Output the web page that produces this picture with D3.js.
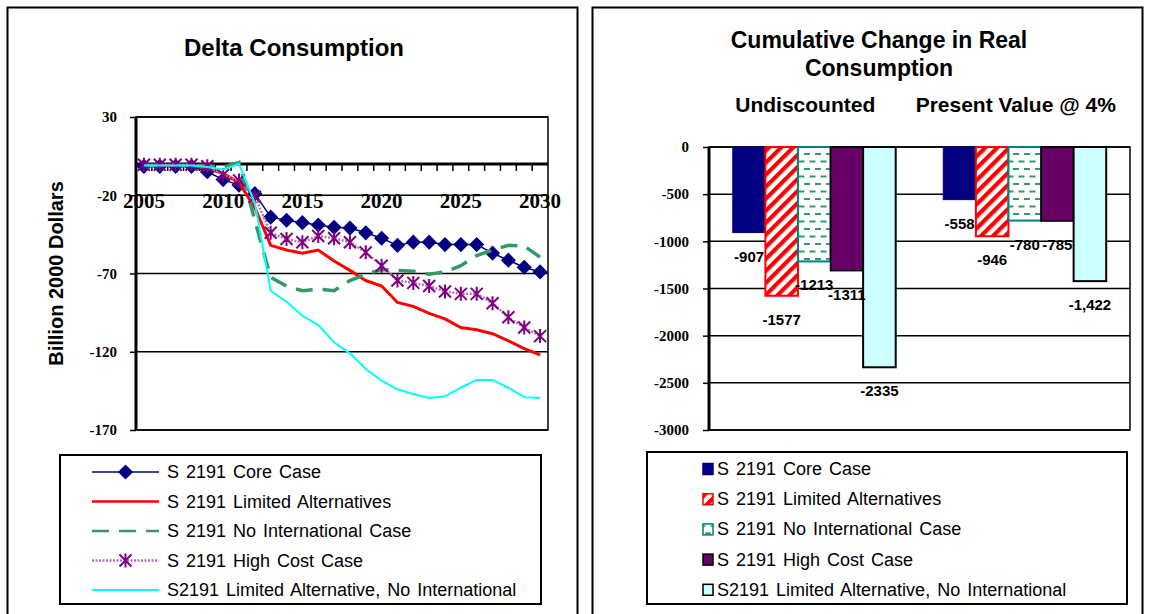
<!DOCTYPE html>
<html>
<head>
<meta charset="utf-8">
<script src="https://cdn.jsdelivr.net/npm/d3@7"></script>
<style>
body { margin: 0; background: #fff; }
svg { display: block; }
</style>
</head>
<body>
<svg id="chart" width="1149" height="614"></svg>
<script>
// ---- data ----
var years = [2005, 2006, 2007, 2008, 2009, 2010, 2011, 2012, 2013, 2014, 2015, 2016, 2017,
             2018, 2019, 2020, 2021, 2022, 2023, 2024, 2025, 2026, 2027, 2028, 2029, 2030];
var yearLabels = [2005, 2010, 2015, 2020, 2025, 2030];
var deltaTicks = [30, -20, -70, -120, -170];

var seriesNames = ["S 2191 Core Case", "S 2191 Limited Alternatives", "S 2191 No International Case",
                   "S 2191 High Cost Case", "S2191 Limited Alternative, No International"];

var coreCase = [-1.5, -1.5, -1.5, -1.5, -5, -10, -13.5, -19, -34, -36, -37.5, -39, -40.5,
                -41, -44, -47.5, -52, -50, -50, -51.5, -51.5, -51.5, -57, -61.5, -66, -69];
var limitedAlt = [-1, -1, -1, -1, -3, -6, -12, -28, -52, -55, -57, -55, -62,
                  -68, -74.5, -78, -88.5, -91, -95.5, -99, -104.5, -106, -108.5, -113, -118, -122];
var noIntl = [-1, -1, -1, -1, -1, -2, 1, -36, -72.5, -78, -81, -80, -81,
              -74.5, -70.5, -67.5, -68, -68.5, -70.5, -69, -65, -58.5, -55, -52, -52.5, -59.5];
var highCost = [-0.5, -0.5, -0.5, -0.5, -1.5, -7, -10.5, -21, -44, -48, -50, -46, -47.5,
                -50, -56.5, -65, -74.5, -76, -78, -81.5, -83, -83, -89, -98, -104.5, -110];
var limitedNoIntl = [-1, -1, -1, -1, -2, -3.5, 0, -25, -81, -88, -97, -103, -114,
                     -121, -131, -138.5, -144, -147, -149.5, -148.5, -143, -138, -138, -143, -149, -149.5];

var cumGroups = ["Undiscounted", "Present Value @ 4%"];
var cumTicks = [0, -500, -1000, -1500, -2000, -2500, -3000];
var cumCore = [-907, -558];
var cumLimitedAlt = [-1577, -946];
var cumNoIntl = [-1213, -780];
var cumHighCost = [-1311, -785];
var cumLimitedNoIntl = [-2335, -1422];
var cumLabels = [["-907", "-558"], ["-1577", "-946"], ["-1213", "-780"], ["-1311", "-785"], ["-2335", "-1,422"]];

// ---- setup ----
var svg = d3.select("#chart");
var sans = "'Liberation Sans', Arial, sans-serif";
var serif = "'Liberation Serif', 'Times New Roman', serif";
var plain = function(d) { return String(d); }; // hyphen minus, no thousands separator

var defs = svg.append("defs");
var stripes = defs.append("pattern").attr("id", "redStripes")
    .attr("patternUnits", "userSpaceOnUse").attr("width", 8.5).attr("height", 8.5)
    .attr("patternTransform", "rotate(45)");
stripes.append("rect").attr("width", 8.5).attr("height", 8.5).attr("fill", "#fff");
stripes.append("rect").attr("width", 4.2).attr("height", 8.5).attr("fill", "#ff0000");

var dashes = defs.append("pattern").attr("id", "greenDashes")
    .attr("patternUnits", "userSpaceOnUse").attr("width", 11).attr("height", 15);
dashes.append("rect").attr("width", 11).attr("height", 15).attr("fill", "#fff");
dashes.append("rect").attr("x", 1).attr("y", 3).attr("width", 6).attr("height", 2).attr("fill", "#339966");
dashes.append("rect").attr("x", 6.5).attr("y", 10.5).attr("width", 6).attr("height", 2).attr("fill", "#339966");
dashes.append("rect").attr("x", -4.5).attr("y", 10.5).attr("width", 6).attr("height", 2).attr("fill", "#339966");

// panel frames
svg.append("rect").attr("x", 7.5).attr("y", 7.5).attr("width", 570).attr("height", 620)
    .attr("fill", "none").attr("stroke", "#000").attr("stroke-width", 2);
svg.append("rect").attr("x", 592.5).attr("y", 7.5).attr("width", 550).attr("height", 620)
    .attr("fill", "none").attr("stroke", "#000").attr("stroke-width", 2);

// ================= left: Delta Consumption =================
var L = {left: 136, right: 548, top: 117, bottom: 430};
var x = d3.scaleBand().domain(years).range([L.left, L.right]).padding(0);
var y = d3.scaleLinear().domain([-170, 30]).range([L.bottom, L.top]);
var cx = function(yr) { return x(yr) + x.bandwidth() / 2; };

svg.append("text").attr("x", 294).attr("y", 56).attr("text-anchor", "middle")
    .attr("font-family", sans).attr("font-weight", "bold").attr("font-size", 24)
    .text("Delta Consumption");

svg.append("text").attr("transform", "translate(63," + (L.top + L.bottom) / 2 + ") rotate(-90)")
    .attr("text-anchor", "middle").attr("font-family", sans).attr("font-weight", "bold")
    .attr("font-size", 20).text("Billion 2000 Dollars");

// gridlines + y axis
var yAxis = d3.axisLeft(y).tickValues(deltaTicks).tickFormat(plain).tickSize(6).tickPadding(13);
var gy = svg.append("g").attr("transform", "translate(" + L.left + ",0)").call(yAxis);
gy.select(".domain").remove();
gy.selectAll(".tick line").attr("stroke", "#000").attr("stroke-width", 1.5);
gy.selectAll(".tick text").attr("font-family", serif).attr("font-weight", "bold")
    .attr("font-size", 15).attr("fill", "#000");

svg.append("g").selectAll("line").data(deltaTicks).enter().append("line")
    .attr("x1", L.left).attr("x2", L.right)
    .attr("y1", function(d) { return y(d); }).attr("y2", function(d) { return y(d); })
    .attr("stroke", "#000").attr("stroke-width", 1.5);

svg.append("rect").attr("x", L.left).attr("y", L.top).attr("width", L.right - L.left)
    .attr("height", L.bottom - L.top).attr("fill", "none").attr("stroke", "#000").attr("stroke-width", 1.5);
svg.append("line").attr("x1", L.left).attr("x2", L.left).attr("y1", L.top).attr("y2", L.bottom)
    .attr("stroke", "#000").attr("stroke-width", 3);

// x axis on zero line, ticks between categories
svg.append("line").attr("x1", L.left).attr("x2", L.right).attr("y1", y(0)).attr("y2", y(0))
    .attr("stroke", "#000").attr("stroke-width", 3);
svg.append("g").selectAll("line").data(years.slice(1)).enter().append("line")
    .attr("x1", function(d) { return x(d); }).attr("x2", function(d) { return x(d); })
    .attr("y1", y(0)).attr("y2", y(0) + 7).attr("stroke", "#000").attr("stroke-width", 1.5);
svg.append("g").selectAll("text").data(yearLabels).enter().append("text")
    .attr("x", function(d) { return cx(d); }).attr("y", 208).attr("text-anchor", "middle")
    .attr("font-family", serif).attr("font-weight", "bold").attr("font-size", 21)
    .text(function(d) { return d; });

var line = d3.line().x(function(d, i) { return cx(years[i]); }).y(function(d) { return y(d); });

var lineStyles = [
  {color: "#000080", width: 1.5, dash: null},
  {color: "#ff0000", width: 3, dash: null},
  {color: "#339966", width: 3.5, dash: "17,10"},
  {color: "#b070b8", width: 2.5, dash: "2,1.5"},
  {color: "#00ffff", width: 2, dash: null}
];
var lineData = [coreCase, limitedAlt, noIntl, highCost, limitedNoIntl];

var diamond = d3.symbol().type(d3.symbolSquare).size(115);
var asterisk = "M-6,-6L6,6M-6,6L6,-6M0,-7L0,7";

lineData.forEach(function(vals, k) {
  var st = lineStyles[k];
  svg.append("path").datum(vals).attr("d", line).attr("fill", "none")
      .attr("stroke", st.color).attr("stroke-width", st.width)
      .attr("stroke-dasharray", st.dash);
  if (k === 0) {
    svg.append("g").selectAll("path").data(vals).enter().append("path")
        .attr("d", diamond)
        .attr("transform", function(d, i) { return "translate(" + cx(years[i]) + "," + y(d) + ") rotate(45)"; })
        .attr("fill", "#000080");
  }
  if (k === 3) {
    svg.append("g").selectAll("path").data(vals).enter().append("path")
        .attr("d", asterisk)
        .attr("transform", function(d, i) { return "translate(" + cx(years[i]) + "," + y(d) + ")"; })
        .attr("stroke", "#800080").attr("stroke-width", 2).attr("fill", "none");
  }
});

// left legend
svg.append("rect").attr("x", 60).attr("y", 455).attr("width", 481).attr("height", 149)
    .attr("fill", "#fff").attr("stroke", "#000").attr("stroke-width", 2);
var legL = svg.append("g").selectAll("g").data(seriesNames).enter().append("g")
    .attr("transform", function(d, i) { return "translate(0," + (472 + i * 29.5) + ")"; });
legL.append("line").attr("x1", 92).attr("x2", 159).attr("y1", 0).attr("y2", 0)
    .attr("stroke", function(d, i) { return lineStyles[i].color; })
    .attr("stroke-width", function(d, i) { return Math.min(lineStyles[i].width, 2.5); })
    .attr("stroke-dasharray", function(d, i) { return lineStyles[i].dash; });
legL.filter(function(d, i) { return i === 0; }).append("path").attr("d", diamond)
    .attr("transform", "translate(125.5,0) rotate(45)").attr("fill", "#000080");
legL.filter(function(d, i) { return i === 3; }).append("path").attr("d", asterisk)
    .attr("transform", "translate(125.5,0)").attr("stroke", "#800080").attr("stroke-width", 2);
legL.append("text").attr("x", 167).attr("y", 6).attr("font-family", sans).attr("font-size", 18)
    .attr("word-spacing", 2).text(function(d) { return d; });

// ================= right: Cumulative Change =================
var R = {left: 709, right: 1130, top: 147, bottom: 430};
var x0 = d3.scaleBand().domain(cumGroups).range([R.left, R.right]).paddingInner(0.226).paddingOuter(0.113);
var x1 = d3.scaleBand().domain(d3.range(seriesNames.length)).range([0, x0.bandwidth()]);
var y2 = d3.scaleLinear().domain([-3000, 0]).range([R.bottom, R.top]);

svg.append("text").attr("x", 879).attr("y", 48).attr("text-anchor", "middle")
    .attr("font-family", sans).attr("font-weight", "bold").attr("font-size", 23)
    .text("Cumulative Change in Real");
svg.append("text").attr("x", 879).attr("y", 76).attr("text-anchor", "middle")
    .attr("font-family", sans).attr("font-weight", "bold").attr("font-size", 23)
    .text("Consumption");
svg.append("g").selectAll("text").data(cumGroups).enter().append("text")
    .attr("x", function(d) { return x0(d) + x0.bandwidth() / 2 - 9; }).attr("y", 112)
    .attr("text-anchor", "middle").attr("font-family", sans).attr("font-weight", "bold")
    .attr("font-size", 21).text(function(d) { return d; });

var yAxis2 = d3.axisLeft(y2).tickValues(cumTicks).tickFormat(plain).tickSize(6).tickPadding(14);
var gy2 = svg.append("g").attr("transform", "translate(" + R.left + ",0)").call(yAxis2);
gy2.select(".domain").remove();
gy2.selectAll(".tick line").attr("stroke", "#000").attr("stroke-width", 1.5);
gy2.selectAll(".tick text").attr("font-family", serif).attr("font-weight", "bold")
    .attr("font-size", 15).attr("fill", "#000");

svg.append("g").selectAll("line").data(cumTicks).enter().append("line")
    .attr("x1", R.left).attr("x2", R.right)
    .attr("y1", function(d) { return y2(d); }).attr("y2", function(d) { return y2(d); })
    .attr("stroke", "#000").attr("stroke-width", 1.5);
svg.append("rect").attr("x", R.left).attr("y", R.top).attr("width", R.right - R.left)
    .attr("height", R.bottom - R.top).attr("fill", "none").attr("stroke", "#000").attr("stroke-width", 1.5);

var barData = [cumCore, cumLimitedAlt, cumNoIntl, cumHighCost, cumLimitedNoIntl];
var barStyles = [
  {fill: "#000080", stroke: "#000080", sw: 1},
  {fill: "url(#redStripes)", stroke: "#ff0000", sw: 2},
  {fill: "url(#greenDashes)", stroke: "#008080", sw: 2},
  {fill: "#660066", stroke: "#000", sw: 1.5},
  {fill: "#ccffff", stroke: "#000", sw: 2}
];

barData.forEach(function(vals, k) {
  var st = barStyles[k];
  svg.append("g").selectAll("rect").data(vals).enter().append("rect")
      .attr("x", function(d, i) { return x0(cumGroups[i]) + x1(k); })
      .attr("y", y2(0))
      .attr("width", x1.bandwidth())
      .attr("height", function(d) { return y2(d) - y2(0); })
      .attr("fill", st.fill).attr("stroke", st.stroke).attr("stroke-width", st.sw);
});
barData.forEach(function(vals, k) {
  svg.append("g").selectAll("text").data(vals).enter().append("text")
      .attr("x", function(d, i) { return x0(cumGroups[i]) + x1(k) + x1.bandwidth() / 2; })
      .attr("y", function(d) { return y2(d) + 29; })
      .attr("text-anchor", "middle").attr("font-family", sans).attr("font-weight", "bold")
      .attr("font-size", 15)
      .text(function(d, i) { return cumLabels[k][i]; });
});
svg.append("line").attr("x1", R.left).attr("x2", R.left).attr("y1", R.top).attr("y2", R.bottom)
    .attr("stroke", "#000").attr("stroke-width", 3);

// right legend
svg.append("rect").attr("x", 647).attr("y", 452).attr("width", 480).attr("height", 152)
    .attr("fill", "#fff").attr("stroke", "#000").attr("stroke-width", 2);
var legR = svg.append("g").selectAll("g").data(seriesNames).enter().append("g")
    .attr("transform", function(d, i) { return "translate(0," + (469 + i * 30.2) + ")"; });
legR.append("rect").attr("x", 703).attr("y", -5.5).attr("width", 10).attr("height", 11)
    .attr("fill", function(d, i) { return barStyles[i].fill; })
    .attr("stroke", function(d, i) { return barStyles[i].stroke; })
    .attr("stroke-width", 1.5);
legR.append("text").attr("x", 717).attr("y", 6).attr("font-family", sans).attr("font-size", 18)
    .attr("word-spacing", 2).text(function(d) { return d; });
</script>
</body>
</html>
